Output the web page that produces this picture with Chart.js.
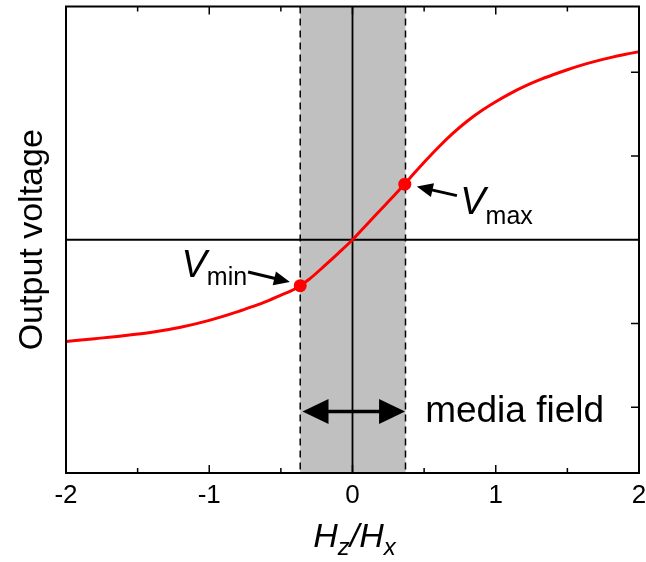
<!DOCTYPE html>
<html><head><meta charset="utf-8">
<script src="https://cdn.jsdelivr.net/npm/chart.js@4"></script>
<style>html,body{margin:0;padding:0;background:#fff}</style>
</head><body>
<canvas id="c" width="646" height="562" style="width:646px;height:562px;display:block"></canvas>
<script>
// ---- data ----
const fieldRatio = [-2.0,-1.8,-1.6,-1.4,-1.2,-1.0,-0.8,-0.7,-0.6,-0.5,-0.4,-0.3,-0.2,-0.1,0,0.1,0.2,0.3,0.4,0.5,0.6,0.7,0.8,0.9,1.0,1.1,1.2,1.3,1.4,1.5,1.6,1.7,1.8,1.9,2.0];
const outputVoltage = [-1.214,-1.181,-1.147,-1.105,-1.045,-0.963,-0.859,-0.799,-0.735,-0.662,-0.585,-0.468,-0.318,-0.162,0,0.183,0.364,0.545,0.735,0.925,1.105,1.27,1.415,1.54,1.648,1.745,1.83,1.905,1.97,2.03,2.085,2.133,2.175,2.212,2.245];
const markerField = [-0.365, 0.365];
const markerVoltage = [-0.548, 0.664];
const mediaBand = [-0.365, 0.37];
const xTickValues = [-2,-1,0,1,2];
const xMinorTicks = [-1.5,-0.5,0.5,1.5];
const yTickValues = [-2,-1,1,2];
const yTitle = 'Output voltage';
const bandLabel = 'media field';

const FONT = '"Liberation Sans", Arial, Helvetica, sans-serif';

function drawRich(ctx, parts, x, y){
  let cx = x;
  for (const p of parts){
    ctx.font = p.font;
    ctx.fillText(p.t, cx, y + (p.dy||0));
    cx += ctx.measureText(p.t).width + (p.gap||0);
  }
}
function richWidth(ctx, parts){
  let w=0; for (const p of parts){ ctx.font=p.font; w += ctx.measureText(p.t).width + (p.gap||0);} return w;
}
function arrowHead(ctx, tx, ty, fx, fy, len, half){
  const ang = Math.atan2(ty-fy, tx-fx);
  ctx.beginPath();
  ctx.moveTo(tx,ty);
  ctx.lineTo(tx - len*Math.cos(ang) + half*Math.sin(ang), ty - len*Math.sin(ang) - half*Math.cos(ang));
  ctx.lineTo(tx - len*Math.cos(ang) - half*Math.sin(ang), ty - len*Math.sin(ang) + half*Math.cos(ang));
  ctx.closePath(); ctx.fill();
}
function arrow(ctx, fx, fy, tx, ty, lw, len, half){
  const ang = Math.atan2(ty-fy, tx-fx);
  ctx.lineWidth = lw;
  ctx.beginPath(); ctx.moveTo(fx,fy); ctx.lineTo(tx - (len-2)*Math.cos(ang), ty - (len-2)*Math.sin(ang)); ctx.stroke();
  arrowHead(ctx, tx, ty, fx, fy, len, half);
}

const deco = {
  id:'deco',
  beforeDatasetsDraw(chart){
    const {ctx, chartArea:a, scales:{x,y}} = chart;
    ctx.save();
    const bl = x.getPixelForValue(mediaBand[0]), br = x.getPixelForValue(mediaBand[1]);
    ctx.fillStyle = '#c0c0c0';
    ctx.fillRect(bl, a.top, br-bl, a.bottom-a.top);
    ctx.strokeStyle = '#000'; ctx.lineWidth = 1.5; ctx.setLineDash([7,5]);
    for (const p of [bl,br]){ ctx.beginPath(); ctx.moveTo(p,a.top); ctx.lineTo(p,a.bottom); ctx.stroke(); }
    ctx.setLineDash([]);
    const x0 = x.getPixelForValue(0), y0 = y.getPixelForValue(0);
    ctx.lineWidth = 1.8;
    ctx.beginPath(); ctx.moveTo(a.left,y0); ctx.lineTo(a.right,y0); ctx.moveTo(x0,a.top); ctx.lineTo(x0,a.bottom); ctx.stroke();
    ctx.restore();
  },
  afterDatasetsDraw(chart){
    const {ctx, chartArea:a, scales:{x,y}} = chart;
    ctx.save();
    ctx.strokeStyle = '#000'; ctx.fillStyle = '#000';
    // frame
    ctx.lineWidth = 2;
    ctx.strokeRect(a.left, a.top, a.right-a.left, a.bottom-a.top);
    // inward ticks
    ctx.lineWidth = 1.5;
    ctx.beginPath();
    for (const v of xTickValues){ const p=x.getPixelForValue(v); ctx.moveTo(p,a.bottom); ctx.lineTo(p,a.bottom-8); ctx.moveTo(p,a.top); ctx.lineTo(p,a.top+8); }
    for (const v of xMinorTicks){ const p=x.getPixelForValue(v); ctx.moveTo(p,a.bottom); ctx.lineTo(p,a.bottom-5); ctx.moveTo(p,a.top); ctx.lineTo(p,a.top+5); }
    for (const v of yTickValues){ const p=y.getPixelForValue(v); ctx.moveTo(a.right,p); ctx.lineTo(a.right-8,p); }
    ctx.stroke();
    // double arrow (media field)
    const ay = y.getPixelForValue(-2.052);
    const ax1 = x.getPixelForValue(-0.349), ax2 = x.getPixelForValue(0.367);
    ctx.lineWidth = 3.5;
    ctx.beginPath(); ctx.moveTo(ax1+20, ay); ctx.lineTo(ax2-20, ay); ctx.stroke();
    arrowHead(ctx, ax1, ay, ax2, ay, 26, 12.5);
    arrowHead(ctx, ax2, ay, ax1, ay, 26, 12.5);
    // Vmax / Vmin arrows
    arrow(ctx, x.getPixelForValue(0.729), y.getPixelForValue(0.527), x.getPixelForValue(0.449), y.getPixelForValue(0.635), 3, 16, 7);
    arrow(ctx, x.getPixelForValue(-0.729), y.getPixelForValue(-0.386), x.getPixelForValue(-0.437), y.getPixelForValue(-0.505), 3, 16, 7);
    // labels
    ctx.textBaseline = 'alphabetic'; ctx.textAlign = 'left';
    drawRich(ctx, [{t:'V', font:'italic 38px '+FONT},{t:'max', font:'25px '+FONT, dy:10}], x.getPixelForValue(0.752), y.getPixelForValue(0.31));
    drawRich(ctx, [{t:'V', font:'italic 38px '+FONT},{t:'min', font:'25px '+FONT, dy:8}], x.getPixelForValue(-1.194), y.getPixelForValue(-0.445));
    ctx.font = '37px '+FONT;
    ctx.fillText(bandLabel, x.getPixelForValue(0.507), y.getPixelForValue(-2.171));
    // x title  H_z / H_x
    const parts = [
      {t:'H', font:'italic 34px '+FONT},
      {t:'z', font:'italic 24px '+FONT, dy:8},
      {t:'/', font:'italic 34px '+FONT},
      {t:'H', font:'italic 34px '+FONT},
      {t:'x', font:'italic 24px '+FONT, dy:8}
    ];
    const w = richWidth(ctx, parts);
    drawRich(ctx, parts, (a.left+a.right)/2 - w/2 + 2, a.bottom + 74);
    // y title
    ctx.translate(42, (a.top+a.bottom)/2);
    ctx.rotate(-Math.PI/2);
    ctx.textAlign = 'center';
    ctx.font = '34px '+FONT;
    ctx.fillText(yTitle, 0, 0);
    ctx.restore();
  }
};

new Chart(document.getElementById('c'), {
  type:'scatter',
  data:{
    datasets:[
      { data: fieldRatio.map((v,i)=>({x:v, y:outputVoltage[i]})), showLine:true, borderColor:'#ff0000', borderWidth:3,
        pointRadius:0, cubicInterpolationMode:'monotone', fill:false, order:2 },
      { data: markerField.map((v,i)=>({x:v, y:markerVoltage[i]})), showLine:false, pointRadius:6.5,
        backgroundColor:'#ff0000', borderWidth:0, order:1 }
    ]
  },
  options:{
    responsive:false, animation:false, devicePixelRatio:1,
    layout:{padding:{top:6, right:0, left:0, bottom:0}},
    plugins:{legend:{display:false}, tooltip:{enabled:false}},
    scales:{
      x:{ type:'linear', min:-2, max:2,
          afterBuildTicks(s){ s.ticks = xTickValues.map(v=>({value:v})); },
          afterFit(s){ s.height = 89; s.paddingRight = 7; s.paddingLeft = 0; },
          grid:{display:false, drawTicks:false}, border:{display:false},
          ticks:{ color:'#000', font:{family:FONT, size:26}, padding:7, maxRotation:0,
                  callback:(v)=>String(v) } },
      y:{ type:'linear', min:-2.785, max:2.785,
          afterFit(s){ s.width = 66; },
          grid:{display:false, drawTicks:false}, border:{display:false},
          ticks:{display:false} }
    }
  },
  plugins:[deco]
});
</script>
</body></html>
